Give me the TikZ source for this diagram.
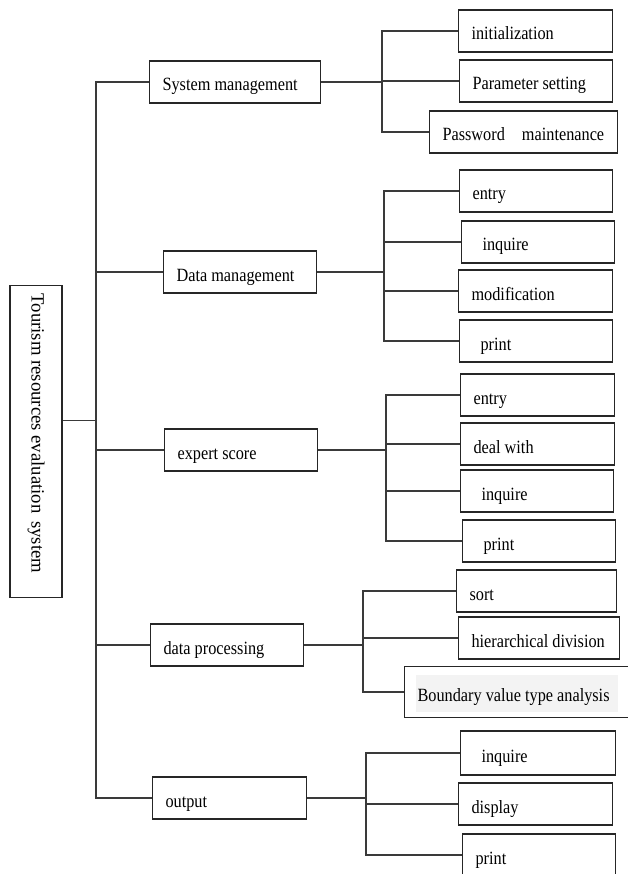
\documentclass[tikz,border=0pt]{standalone}
\usepackage{fontspec}
\setmainfont{Liberation Serif}[FakeStretch=0.87]
\newfontfamily\rootfont{Liberation Serif}
\usetikzlibrary{positioning}
\definecolor{ink}{HTML}{262626}
\definecolor{wire}{HTML}{3A3A3A}
\definecolor{haze}{HTML}{F3F3F3}
\tikzset{
  box/.style={draw=ink,line width=1.1pt,anchor=west,align=flush left,inner xsep=13pt,inner ysep=0pt,
              minimum height=42pt,text height=19pt,text depth=1pt,font=\fontsize{18.7}{22}\selectfont},
  ln/.style={draw=wire,line width=1.1pt},
}

\begin{document}
\begin{tikzpicture}[x=1pt,y=-1pt]
\useasboundingbox (0,0) rectangle (627,874);
\coordinate (spine) at (96,0);
\coordinate (s1) at (382,0);
\coordinate (s2) at (384,0);
\coordinate (s3) at (386,0);
\coordinate (s4) at (363,0);
\coordinate (s5) at (366,0);

\node[box,rotate=-90,text width=296,inner xsep=8pt,minimum height=52pt,text height=13pt,text depth=4pt,
      font=\rootfont\fontsize{18.7}{22}\selectfont] (root) at (36,285) {\mbox{Tourism resources evaluation\hspace{3pt} system}};

\node[box,text width=145] (sys) at (149,82) {\mbox{System management}};
\node[box,text width=127] (data) at (163,272) {\mbox{Data management}};
\node[box,text width=127] (expert) at (164,450) {\mbox{expert score}};
\node[box,text width=127] (proc) at (150,645) {\mbox{data processing}};
\node[box,text width=128] (out) at (152,798) {output};

\node[box,text width=128] (init) at (458,31) {initialization};
\node[box,text width=127] (param) at (459,81) {\mbox{Parameter setting}};
\node[box,text width=162] (pwd) at (429,132) {\mbox{Password\hspace{13pt} maintenance}};

\node[box,text width=127] (dentry) at (459,191) {entry};
\node[box,text width=127] (dinq) at (461,242) {\hspace*{8pt}inquire};
\node[box,text width=128] (dmod) at (458,291) {modification};
\node[box,text width=127] (dprint) at (459,341) {\hspace*{8pt}print};

\node[box,text width=128] (eentry) at (460,395) {entry};
\node[box,text width=128] (edeal) at (460,444) {\mbox{deal with}};
\node[box,text width=127] (einq) at (460,491) {\hspace*{8pt}inquire};
\node[box,text width=127] (eprint) at (462,541) {\hspace*{8pt}print};

\node[box,text width=134] (sort) at (456,591) {sort};
\node[box,text width=135] (hier) at (458,638) {\mbox{hierarchical division}};
\fill[haze] (416,675) rectangle (618,712);
\node[box,text width=198,minimum height=51pt] (bva) at (404,692) {\mbox{Boundary value type analysis}};

\node[box,text width=129,minimum height=44pt] (oinq) at (460,753) {\hspace*{8pt}inquire};
\node[box,text width=128] (odisp) at (458,804) {display};
\node[box,text width=127] (oprint) at (462,855) {print};

\draw[ln] (sys.west) -| (out.west -| spine) -- (out.west)
  (data.west) -- (data.west -| spine)
  (expert.west) -- (expert.west -| spine)
  (proc.west) -- (proc.west -| spine)
  ([yshift=21pt]root.north) -- ([yshift=21pt]root.north -| spine);

\draw[ln] (sys.east) -- (sys.east -| s1)
  (init.west) -| (pwd.west -| s1) -- (pwd.west)
  (param.west) -- (param.west -| s1);

\draw[ln] (data.east) -- (data.east -| s2)
  (dentry.west) -| (dprint.west -| s2) -- (dprint.west)
  (dinq.west) -- (dinq.west -| s2)
  (dmod.west) -- (dmod.west -| s2);

\draw[ln] (expert.east) -- (expert.east -| s3)
  (eentry.west) -| (eprint.west -| s3) -- (eprint.west)
  (edeal.west) -- (edeal.west -| s3)
  (einq.west) -- (einq.west -| s3);

\draw[ln] (proc.east) -- (proc.east -| s4)
  (sort.west) -| (bva.west -| s4) -- (bva.west)
  (hier.west) -- (hier.west -| s4);

\draw[ln] (out.east) -- (out.east -| s5)
  (oinq.west) -| (oprint.west -| s5) -- (oprint.west)
  (odisp.west) -- (odisp.west -| s5);
\end{tikzpicture}
\end{document}
